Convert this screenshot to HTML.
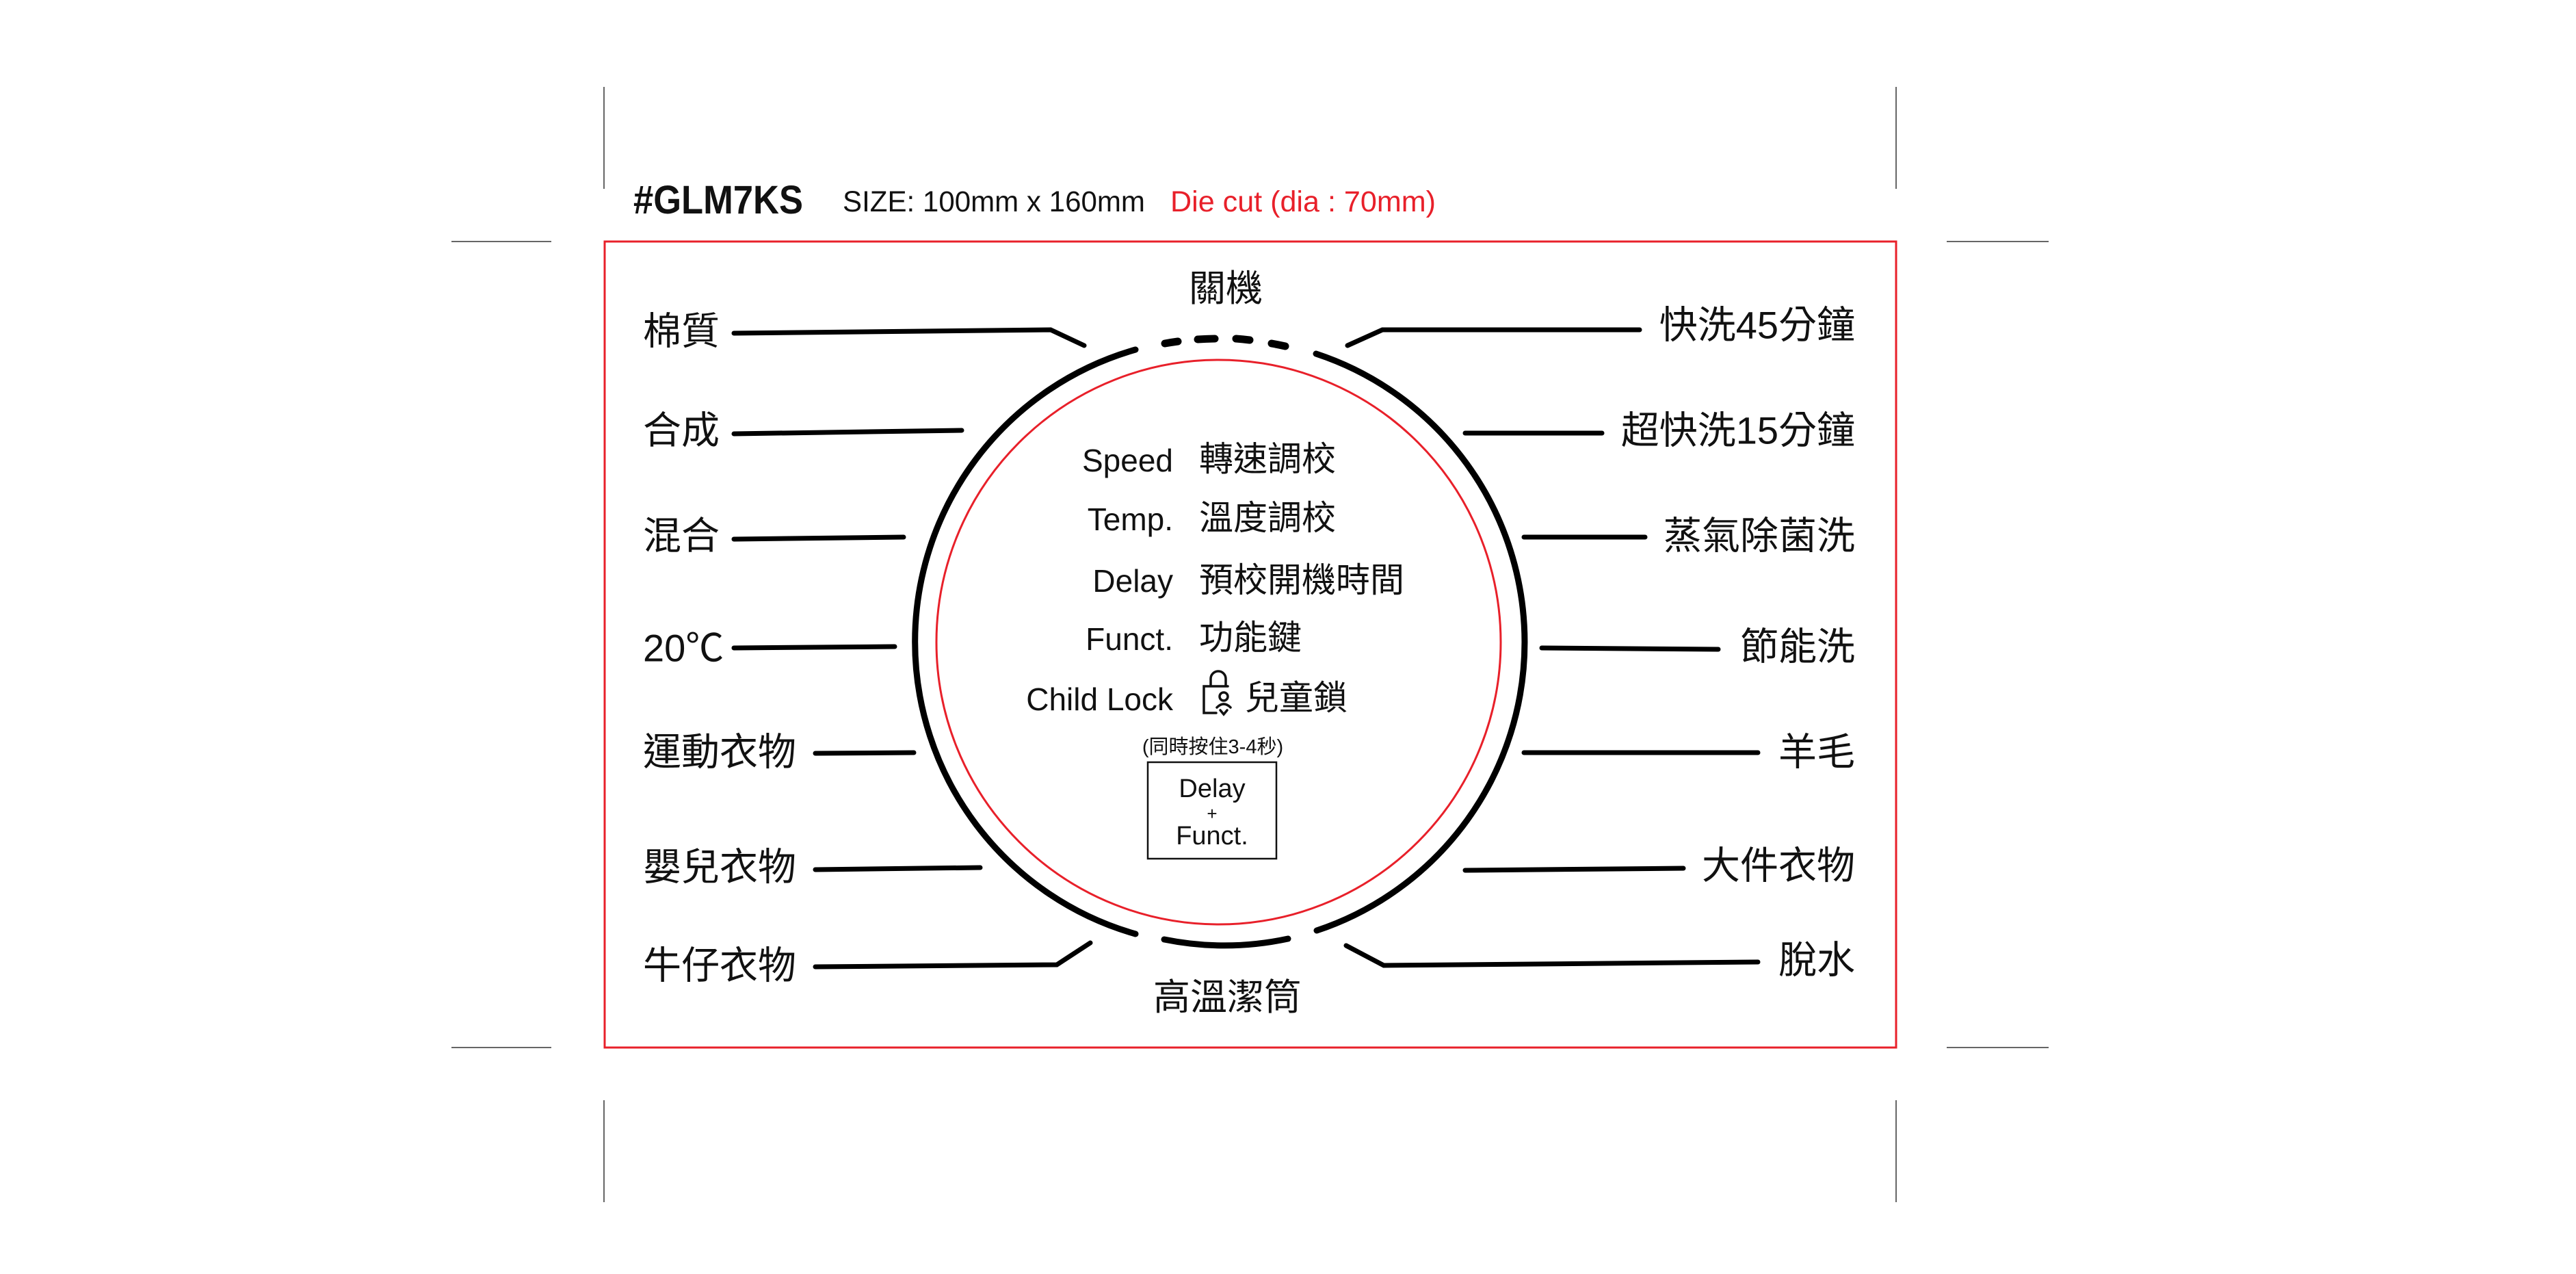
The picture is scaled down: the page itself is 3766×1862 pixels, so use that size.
<!DOCTYPE html>
<html><head><meta charset="utf-8"><style>
html,body{margin:0;padding:0;background:#fff;}
svg{display:block;}
text{font-family:"Liberation Sans","Noto Sans CJK TC",sans-serif;fill:#111;}
.cj{font-family:"Noto Sans CJK TC","Liberation Sans",sans-serif;}
</style></head><body>
<svg width="3766" height="1862" viewBox="0 0 3766 1862" xmlns="http://www.w3.org/2000/svg">
<rect width="3766" height="1862" fill="#fff"/>
<!-- crop marks -->
<g stroke="#666" stroke-width="2">
<line x1="883" y1="127" x2="883" y2="276"/><line x1="2772" y1="127" x2="2772" y2="276"/>
<line x1="883" y1="1608" x2="883" y2="1757"/><line x1="2772" y1="1608" x2="2772" y2="1757"/>
<line x1="660" y1="353" x2="806" y2="353"/><line x1="660" y1="1531" x2="806" y2="1531"/>
<line x1="2846" y1="353" x2="2995" y2="353"/><line x1="2846" y1="1531" x2="2995" y2="1531"/>
</g>
<!-- header -->
<text x="926" y="312" font-size="58" font-weight="bold" textLength="248" lengthAdjust="spacingAndGlyphs">#GLM7KS</text>
<text x="1232" y="309" font-size="43" textLength="442" lengthAdjust="spacingAndGlyphs">SIZE: 100mm x 160mm</text>
<text x="1711" y="309" font-size="43" style="fill:#e8202a" textLength="388" lengthAdjust="spacingAndGlyphs">Die cut (dia : 70mm)</text>
<!-- red rect -->
<rect x="884" y="353" width="1888" height="1178" fill="none" stroke="#e8202a" stroke-width="3"/>
<!-- red circle -->
<circle cx="1781.5" cy="938.5" r="412.5" fill="none" stroke="#e8202a" stroke-width="3"/>
<!-- black arcs -->
<g fill="none" stroke="#000" stroke-width="9" stroke-linecap="round">
<path d="M1660 511 A444 444 0 0 0 1660 1365"/>
<path d="M1924 517 A444 444 0 0 1 1925 1360"/>
<path d="M1702 1373 A444 444 0 0 0 1883 1372"/>
</g>
<g fill="none" stroke="#000" stroke-width="11" stroke-linecap="round">
<path d="M1703 502 A444 444 0 0 1 1722 499"/>
<path d="M1751 496 A444 444 0 0 1 1776 495"/>
<path d="M1807 495 A444 444 0 0 1 1827 497"/>
<path d="M1859 502 A444 444 0 0 1 1879 506"/>
</g>
<!-- leaders -->
<g fill="none" stroke="#000" stroke-width="7" stroke-linecap="round" stroke-linejoin="miter">
<polyline points="1073,487 1536,482 1585,505"/>
<line x1="1073" y1="634" x2="1406" y2="629"/>
<line x1="1073" y1="788" x2="1321" y2="785"/>
<line x1="1073" y1="947" x2="1308" y2="945"/>
<line x1="1192" y1="1101" x2="1336" y2="1100"/>
<line x1="1192" y1="1271" x2="1433" y2="1268"/>
<polyline points="1192,1413 1545,1410 1594,1378"/>
<polyline points="2397,482 2021,482 1970,505"/>
<line x1="2142" y1="633" x2="2342" y2="633"/>
<line x1="2228" y1="785" x2="2405" y2="785"/>
<line x1="2254" y1="947" x2="2512" y2="949"/>
<line x1="2228" y1="1100" x2="2570" y2="1100"/>
<line x1="2142" y1="1272" x2="2461" y2="1269"/>
<polyline points="2570,1406 2023,1411 1968,1382"/>
</g>
<!-- left labels -->
<g font-size="56" dominant-baseline="central">
<text x="940" y="484">棉質</text>
<text x="940" y="629">合成</text>
<text x="940" y="783">混合</text>
<text x="940" y="947">20℃</text>
<text x="940" y="1099">運動衣物</text>
<text x="940" y="1267">嬰兒衣物</text>
<text x="940" y="1411">牛仔衣物</text>
</g>
<g font-size="56" dominant-baseline="central" text-anchor="end">
<text x="2712" y="475">快洗45分鐘</text>
<text x="2712" y="629">超快洗15分鐘</text>
<text x="2712" y="783">蒸氣除菌洗</text>
<text x="2712" y="945">節能洗</text>
<text x="2712" y="1099">羊毛</text>
<text x="2712" y="1265">大件衣物</text>
<text x="2712" y="1403">脫水</text>
</g>
<g font-size="54" dominant-baseline="central" text-anchor="middle">
<text x="1792" y="422">關機</text>
<text x="1794" y="1458">高溫潔筒</text>
</g>
<!-- center -->
<g font-size="46" dominant-baseline="central" text-anchor="end">
<text x="1715" y="673">Speed</text>
<text x="1715" y="759">Temp.</text>
<text x="1715" y="849">Delay</text>
<text x="1715" y="934">Funct.</text>
<text x="1715" y="1022">Child Lock</text>
</g>
<g font-size="50" dominant-baseline="central">
<text x="1753" y="671">轉速調校</text>
<text x="1753" y="757">溫度調校</text>
<text x="1753" y="848">預校開機時間</text>
<text x="1753" y="932">功能鍵</text>
<text x="1820" y="1020">兒童鎖</text>
</g>
<!-- lock icon -->
<g fill="none" stroke="#111" stroke-width="3.5" stroke-linecap="round">
<path d="M1770 1002 V992 a11 11 0 0 1 22 0 V1002"/>
<path d="M1778 1042 H1760 V1003 H1795"/>
<circle cx="1789" cy="1018" r="6"/>
<path d="M1779 1034 q10 -10 20 0"/>
<path d="M1784 1038 l5 6 l5 -6"/>
</g>
<text x="1773" y="1092" font-size="29" dominant-baseline="central" text-anchor="middle">(同時按住3-4秒)</text>
<rect x="1678" y="1114" width="188" height="141" fill="none" stroke="#111" stroke-width="2.5"/>
<g text-anchor="middle" dominant-baseline="central">
<text x="1772" y="1153" font-size="38">Delay</text>
<text x="1772" y="1189" font-size="26">+</text>
<text x="1772" y="1222" font-size="38">Funct.</text>
</g>
</svg>
</body></html>
